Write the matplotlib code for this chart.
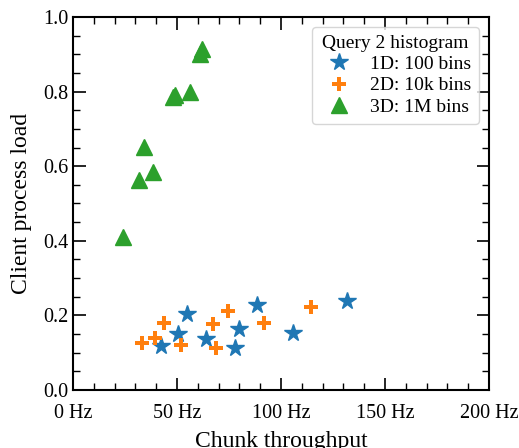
import matplotlib
matplotlib.use("Agg")
import matplotlib.pyplot as plt
from matplotlib.ticker import MultipleLocator, FuncFormatter

# 1D: 100 bins
x_1d = [42.3, 50.3, 54.6, 63.9, 77.9, 79.8, 88.3, 105.6, 131.6]
y_1d = [0.118, 0.150, 0.205, 0.138, 0.113, 0.163, 0.228, 0.154, 0.239]

# 2D: 10k bins
x_2d = [33.0, 39.4, 43.8, 51.8, 67.2, 68.8, 74.7, 92.0, 114.3]
y_2d = [0.125, 0.140, 0.180, 0.121, 0.177, 0.112, 0.213, 0.179, 0.222]

# 3D: 1M bins
x_3d = [24.0, 31.9, 34.1, 38.3, 48.2, 49.0, 56.3, 61.1, 61.9]
y_3d = [0.41, 0.563, 0.652, 0.585, 0.786, 0.79, 0.80, 0.902, 0.915]

plt.rcParams['font.family'] = ['Liberation Serif', 'DejaVu Serif']

fig = plt.figure(figsize=(5.19, 4.48), dpi=100)
ax = fig.add_axes([73/519, 1 - 390/448, 416/519, 373/448])

ax.plot(x_1d, y_1d, '*', color='tab:blue', markersize=13, linestyle='none', label='1D: 100 bins')
ax.plot(x_2d, y_2d, 'P', color='tab:orange', markersize=10, markeredgewidth=0, linestyle='none', label='2D: 10k bins')
ax.plot(x_3d, y_3d, '^', color='tab:green', markersize=11, linestyle='none', label='3D: 1M bins')

ax.set_xlim(0, 200)
ax.set_ylim(0, 1.0)
ax.xaxis.set_major_locator(MultipleLocator(50))
ax.xaxis.set_minor_locator(MultipleLocator(10))
ax.yaxis.set_major_locator(MultipleLocator(0.2))
ax.yaxis.set_minor_locator(MultipleLocator(0.05))
ax.xaxis.set_major_formatter(FuncFormatter(lambda v, p: f"{v:.0f} Hz"))
ax.yaxis.set_major_formatter(FuncFormatter(lambda v, p: f"{v:.1f}"))

ax.tick_params(which='both', direction='in', top=True, right=True, labelsize=14.5)
ax.tick_params(which='major', length=9, width=1.2)
ax.tick_params(which='minor', length=5, width=1)
ax.tick_params(axis='x', which='major', pad=10)
for s in ax.spines.values():
    s.set_linewidth(1.5)

ax.set_xlabel('Chunk throughput', fontsize=17, labelpad=6)
ax.set_ylabel('Client process load', fontsize=17, labelpad=8)

leg = ax.legend(title='Query 2 histogram', loc='upper right', fontsize=14,
                title_fontsize=14, handletextpad=0.6, borderpad=0.4,
                labelspacing=0.2)

fig.savefig('out.png', dpi=100)
